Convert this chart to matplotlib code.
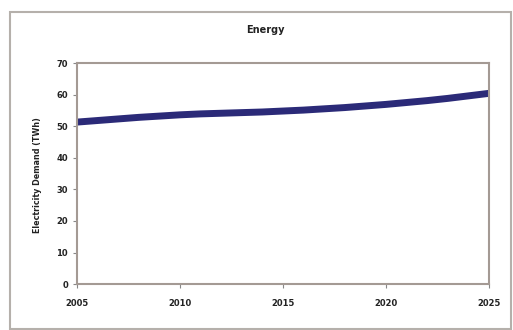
import matplotlib
matplotlib.use('Agg')
import matplotlib.pyplot as plt
from matplotlib.patches import Rectangle

# Electricity demand projection (TWh)
years = list(range(2005, 2026))
demand = [51.3, 51.8, 52.3, 52.8, 53.2, 53.6, 53.9, 54.1, 54.3, 54.5, 54.8,
          55.1, 55.5, 55.9, 56.4, 56.9, 57.5, 58.1, 58.8, 59.6, 60.4]
x_ticks = [2005, 2010, 2015, 2020, 2025]
y_ticks = [0, 10, 20, 30, 40, 50, 60, 70]

fig = plt.figure(figsize=(5.13, 3.3), dpi=100)
fig.patch.set_facecolor('white')

# cadre extérieur du graphique
fig.patches.append(Rectangle((10 / 513, 1 / 330), 501 / 513, 317 / 330,
                             transform=fig.transFigure, fill=False,
                             edgecolor='#b5b0ab', linewidth=1.5))

ax = fig.add_axes([0.150, 0.139, 0.803, 0.670])
ax.plot(years, demand, color='#2b2a78', linewidth=5, solid_capstyle='butt')

ax.set_xlim(2005, 2025)
ax.set_ylim(0, 70)
ax.set_xticks(x_ticks)
ax.set_yticks(y_ticks)
ax.tick_params(axis='both', labelsize=6, length=3, color='#888888', width=0.8)
for lbl in ax.get_xticklabels() + ax.get_yticklabels():
    lbl.set_fontweight('bold')
    lbl.set_color('#222222')
ax.tick_params(axis='x', pad=8)
for s in ax.spines.values():
    s.set_color('#a49a94')
    s.set_linewidth(1.5)

fig.text(0.517, 0.909, 'Energy', ha='center', va='center',
         fontsize=7, fontweight='bold', color='#222222')
fig.text(0.074, 0.47, 'Electricity Demand (TWh)', ha='center', va='center',
         rotation=90, fontsize=5.8, fontweight='bold', color='#222222')

fig.savefig('out.png', dpi=100)
